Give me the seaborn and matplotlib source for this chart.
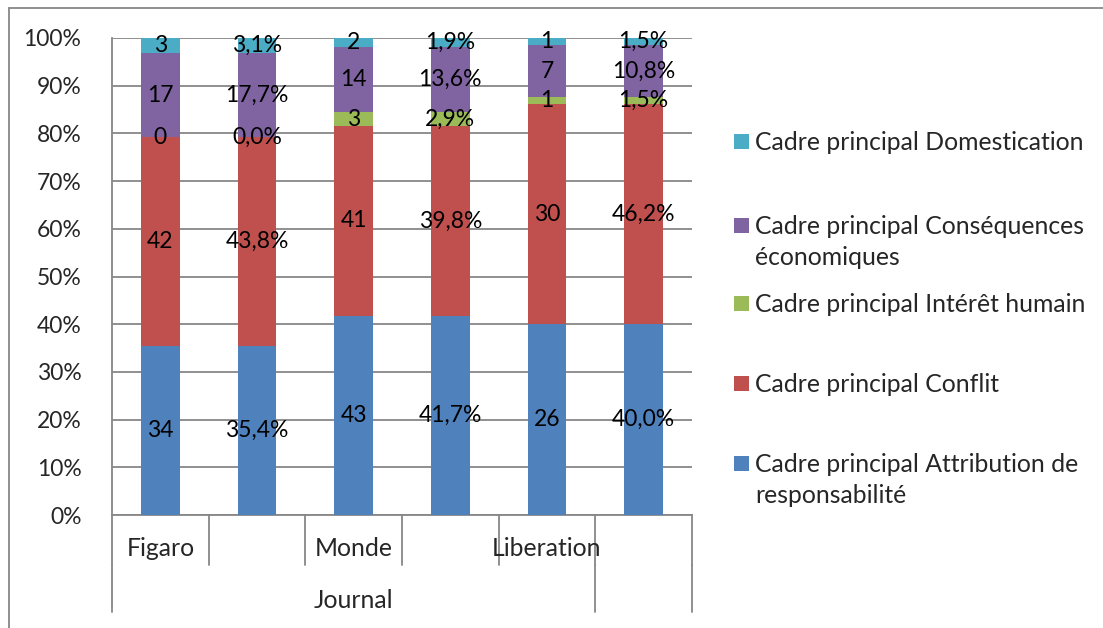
import numpy as np
import pandas as pd
import matplotlib
matplotlib.use("Agg")
import matplotlib.pyplot as plt
import seaborn as sns
from matplotlib.patches import Rectangle
from matplotlib.lines import Line2D
import matplotlib.transforms as mtransforms

# ─── Data ──────────────────────────────────────────────────────────────────────

bar_ids = ["Figaro n", "Figaro %", "Monde n", "Monde %", "Liberation n", "Liberation %"]
journals = ["Figaro", "", "Monde", "", "Liberation", ""]
series = [
    "Cadre principal Attribution de\nresponsabilité",
    "Cadre principal Conflit",
    "Cadre principal Intérêt humain",
    "Cadre principal Conséquences\néconomiques",
    "Cadre principal Domestication",
]
colors = ["#4F81BD", "#C0504D", "#9BBB59", "#8064A2", "#4BACC6"]

# counts (odd bars) and percentages (even bars), one list per series
attribution = [34, 35.4, 43, 41.7, 26, 40.0]
conflit = [42, 43.8, 41, 39.8, 30, 46.2]
interet = [0, 0.0, 3, 2.9, 1, 1.5]
consequences = [17, 17.7, 14, 13.6, 7, 10.8]
domestication = [3, 3.1, 2, 1.9, 1, 1.5]
is_percent = [False, True, False, True, False, True]

values = np.array([attribution, conflit, interet, consequences, domestication], dtype=float)
shares = values / values.sum(axis=0) * 100
cumul = np.cumsum(shares, axis=0)

# ─── Figure ────────────────────────────────────────────────────────────────────

sns.set_style("white")
plt.rcParams["font.family"] = ["Lato", "DejaVu Sans"]
FS = 16.5        # tick and value labels
FS_TXT = 17.8    # legend and category text
GRID = "#878787"

fig = plt.figure(figsize=(11.03, 6.28), dpi=100)
ax = fig.add_axes([112 / 1103, 113 / 628, 580 / 1103, 477 / 628])

# stacked bars: draw cumulative totals from the top layer down
for k in range(len(series) - 1, -1, -1):
    df = pd.DataFrame({"bar": bar_ids, "top": cumul[k]})
    sns.barplot(data=df, x="bar", y="top", color=colors[k], width=0.4,
                saturation=1, linewidth=0, ax=ax, zorder=3)

# value labels
for k in range(len(series)):
    for i in range(len(bar_ids)):
        v = values[k, i]
        txt = f"{v:.1f}%".replace(".", ",") if is_percent[i] else f"{int(v)}"
        ax.text(i, cumul[k, i] - shares[k, i] / 2, txt, ha="center", va="center",
                fontsize=FS, color="black", zorder=5)

ax.set_xlim(-0.5, 5.5)
ax.set_ylim(0, 100)
ax.set_yticks(np.arange(0, 101, 10))
ax.set_yticklabels([f"{t}%" for t in range(0, 101, 10)], fontsize=FS)
ax.tick_params(axis="y", length=8, width=1.3, color=GRID, pad=14, direction="out")
ax.set_xticks([])
ax.set_xlabel("")
ax.set_ylabel("")
ax.yaxis.grid(True, color=GRID, linewidth=1.3)
ax.set_axisbelow(True)
for side in ["top", "right"]:
    ax.spines[side].set_visible(False)
for side in ["left", "bottom"]:
    ax.spines[side].set_color(GRID)
    ax.spines[side].set_linewidth(1.3)

# multi-level category axis
trans = mtransforms.blended_transform_factory(ax.transData, ax.transAxes)
row1 = -50 / 477
row2 = -97 / 477
for b in np.arange(-0.5, 6, 1.0):
    ax.add_line(Line2D([b, b], [0, row1], transform=trans, color=GRID,
                       linewidth=1.3, clip_on=False))
for b in [-0.5, 4.5, 5.5]:
    ax.add_line(Line2D([b, b], [row1, row2], transform=trans, color=GRID,
                       linewidth=1.3, clip_on=False))
for i, name in enumerate(journals):
    if name:
        ax.text(i, -34 / 477, name, transform=trans, ha="center", va="center",
                fontsize=FS_TXT)
ax.text(2.0, -86 / 477, "Journal", transform=trans, ha="center", va="center", fontsize=FS_TXT)

# legend drawn to match the original spacing (y of first text line, in px)
leg_rows = [141, 225, 303, 383, 463]
for k in range(len(series) - 1, -1, -1):
    y = leg_rows[len(series) - 1 - k]
    fig.patches.append(Rectangle((734 / 1103, 1 - (y + 8) / 628), 15 / 1103, 15 / 628,
                                 transform=fig.transFigure, facecolor=colors[k],
                                 edgecolor="none"))
    fig.text(755 / 1103, 1 - (y - 10) / 628, series[k], ha="left", va="top",
             fontsize=FS_TXT, linespacing=1.4)

# outer frame (top and left edges visible)
fig.add_artist(Line2D([9 / 1103, 1], [1 - 8 / 628, 1 - 8 / 628], transform=fig.transFigure,
                      color=GRID, linewidth=1.3))
fig.add_artist(Line2D([9 / 1103, 9 / 1103], [0, 1 - 8 / 628], transform=fig.transFigure,
                      color=GRID, linewidth=1.3))

fig.savefig("out.png", dpi=100)
